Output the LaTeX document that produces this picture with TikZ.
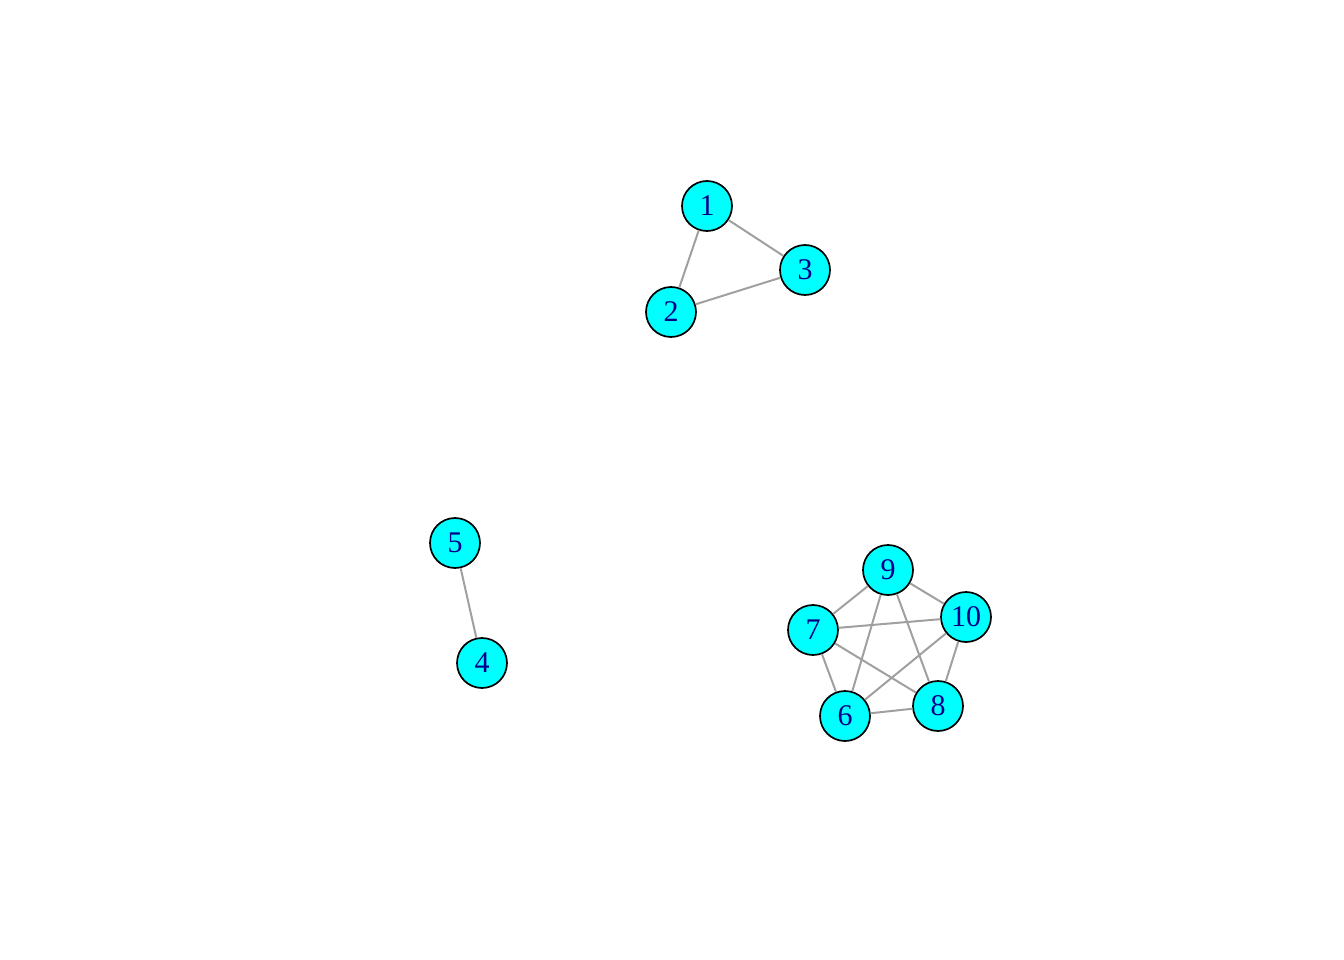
\documentclass[tikz,border=0pt]{standalone}
\usepackage{fontspec}
\setmainfont{Liberation Serif}
\definecolor{labelblue}{HTML}{00008B}
\definecolor{edgegray}{HTML}{A0A0A0}
\definecolor{vcyan}{HTML}{00FFFF}
\tikzset{
  vtx/.style={circle, draw=black, line width=1.7pt, fill=vcyan, minimum size=50pt, inner sep=0pt,
    text=labelblue, font=\fontsize{30}{30}\selectfont},
  edge/.style={draw=edgegray, line width=2pt}
}
\begin{document}
\begin{tikzpicture}[x=1pt,y=-1pt]
\useasboundingbox (0,0) rectangle (1344,960);
\node[vtx] (n1) at (707,206) {1};
\node[vtx] (n2) at (671,312) {2};
\node[vtx] (n3) at (805,270) {3};
\node[vtx] (n5) at (455,543) {5};
\node[vtx] (n4) at (482,663) {4};
\node[vtx] (n9) at (888,570) {9};
\node[vtx] (n10) at (966,617) {10};
\node[vtx] (n7) at (813,630) {7};
\node[vtx] (n6) at (845,716) {6};
\node[vtx] (n8) at (938,706) {8};
\draw[edge] (n1) -- (n2);
\draw[edge] (n1) -- (n3);
\draw[edge] (n2) -- (n3);
\draw[edge] (n4) -- (n5);
\draw[edge] (n9) -- (n7);
\draw[edge] (n9) -- (n10);
\draw[edge] (n9) -- (n6);
\draw[edge] (n9) -- (n8);
\draw[edge] (n7) -- (n10);
\draw[edge] (n7) -- (n6);
\draw[edge] (n7) -- (n8);
\draw[edge] (n10) -- (n6);
\draw[edge] (n10) -- (n8);
\draw[edge] (n6) -- (n8);
\end{tikzpicture}
\end{document}
